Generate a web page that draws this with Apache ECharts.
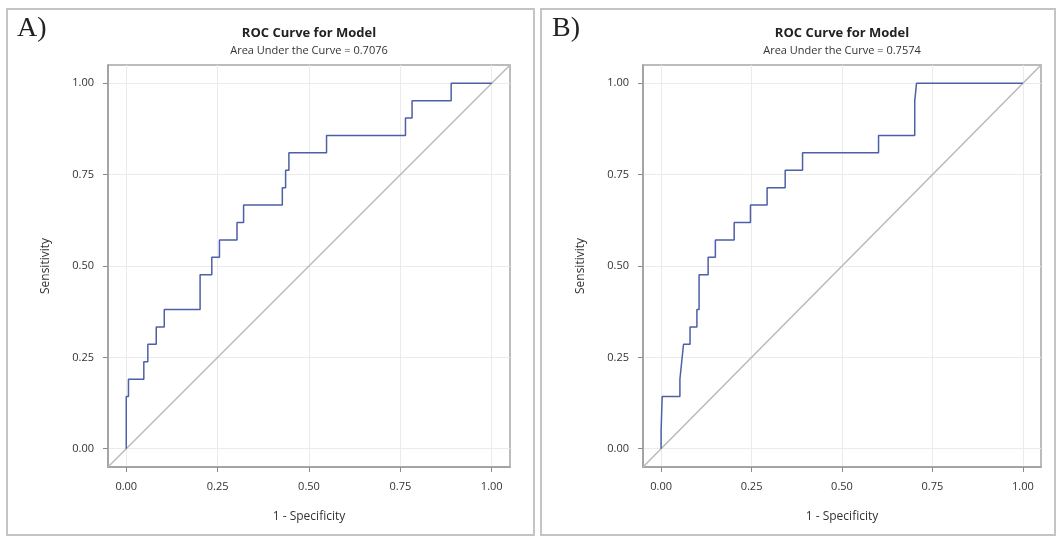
<!DOCTYPE html>
<html lang="en">
<head>
  <meta charset="UTF-8">
  <title>ROC Curves</title>
  <script src="https://cdn.jsdelivr.net/npm/echarts@6/dist/echarts.min.js"></script>
  <style>
    html, body { margin: 0; padding: 0; background: #fff; }
  </style>
</head>
<body>
  <div id="main" style="width: 1058px;height:536px;"></div>
  <script type="text/javascript">
    // tick positions and labels shared by both panels
    var tickValues = [0, 0.25, 0.5, 0.75, 1];
    var tickLabels = ['0.00', '0.25', '0.50', '0.75', '1.00'];

    var panelLabels = ['A)', 'B)'];
    var aucValues = ['0.7076', '0.7574'];

    // panel A staircase (1 - specificity, sensitivity)
    var fprA = [0, 0, 0.006, 0.006, 0.048, 0.048, 0.059, 0.059, 0.082, 0.082, 0.104, 0.104,
                0.202, 0.202, 0.234, 0.234, 0.255, 0.255, 0.303, 0.303, 0.321, 0.321,
                0.427, 0.427, 0.436, 0.436, 0.445, 0.445, 0.548, 0.548, 0.764, 0.764,
                0.782, 0.782, 0.889, 0.889, 1.0];
    var tprA = [0, 0.143, 0.143, 0.190, 0.190, 0.238, 0.238, 0.286, 0.286, 0.333, 0.333, 0.381,
                0.381, 0.476, 0.476, 0.524, 0.524, 0.571, 0.571, 0.619, 0.619, 0.667,
                0.667, 0.714, 0.714, 0.762, 0.762, 0.810, 0.810, 0.857, 0.857, 0.905,
                0.905, 0.952, 0.952, 1.0, 1.0];

    // panel B staircase
    var fprB = [0, 0, 0.003, 0.003, 0.052, 0.052, 0.057, 0.057, 0.062, 0.062, 0.080, 0.080,
                0.099, 0.099, 0.105, 0.105, 0.130, 0.130, 0.150, 0.150, 0.202, 0.202,
                0.247, 0.247, 0.293, 0.293, 0.343, 0.343, 0.391, 0.391, 0.601, 0.601,
                0.701, 0.701, 0.706, 0.706, 1.0];
    var tprB = [0, 0.048, 0.048, 0.143, 0.143, 0.190, 0.190, 0.238, 0.238, 0.286, 0.286, 0.333,
                0.333, 0.381, 0.381, 0.476, 0.476, 0.524, 0.524, 0.571, 0.571, 0.619,
                0.619, 0.667, 0.667, 0.714, 0.714, 0.762, 0.762, 0.810, 0.810, 0.857,
                0.857, 0.952, 0.952, 1.0, 1.0];

    // chance line spans the whole plot frame
    var diagX = [-0.05, 1.05];
    var diagY = [-0.05, 1.05];

    function pairs(xs, ys) {
      return xs.map(function (x, i) { return [x, ys[i]]; });
    }

    var font = '"Open Sans", "Liberation Sans", sans-serif';
    var textColor = '#333';

    var grids = [
      { left: 108, top: 65, width: 402, height: 402 },
      { left: 643, top: 65, width: 398, height: 402 }
    ];
    var centers = [309, 842];

    function fmt(v) {
      var i = tickValues.indexOf(v);
      return i >= 0 ? tickLabels[i] : '';
    }

    function makeX(gi) {
      return {
        type: 'value', gridIndex: gi, min: -0.05, max: 1.05,
        name: '1 - Specificity', nameLocation: 'middle', nameGap: 44,
        nameTextStyle: { fontSize: 12, color: textColor, fontFamily: font },
        axisLine: { show: true, onZero: false, lineStyle: { color: '#9c9c9c', width: 1.5 } },
        axisTick: { show: true, length: 5, customValues: tickValues, lineStyle: { color: '#8a8a8a' } },
        axisLabel: { customValues: tickValues, formatter: fmt, margin: 14, fontSize: 11, color: textColor, fontFamily: font },
        splitLine: { show: true, lineStyle: { color: '#ebebeb', width: 1 } }
      };
    }

    function makeY(gi) {
      return {
        type: 'value', gridIndex: gi, min: -0.05, max: 1.05,
        name: 'Sensitivity', nameLocation: 'middle', nameGap: 56,
        nameTextStyle: { fontSize: 12, color: textColor, fontFamily: font },
        axisLine: { show: true, onZero: false, lineStyle: { color: '#9c9c9c', width: 1.5 } },
        axisTick: { show: true, length: 5, customValues: tickValues, lineStyle: { color: '#8a8a8a' } },
        axisLabel: { customValues: tickValues, formatter: fmt, margin: 14, fontSize: 11, color: textColor, fontFamily: font },
        splitLine: { show: true, lineStyle: { color: '#ebebeb', width: 1 } }
      };
    }

    var graphic = [
      { type: 'rect', shape: { x: 7, y: 9, width: 527, height: 526 }, style: { fill: 'none', stroke: '#c4c4c4', lineWidth: 2 }, silent: true },
      { type: 'rect', shape: { x: 541, y: 9, width: 514, height: 526 }, style: { fill: 'none', stroke: '#c4c4c4', lineWidth: 2 }, silent: true }
    ];
    var labelX = [17, 552];
    for (var p = 0; p < 2; p++) {
      graphic.push({
        type: 'text', left: labelX[p], top: 15,
        style: { text: panelLabels[p], font: '28px "Liberation Serif", serif', fill: '#222' }
      });
      graphic.push({
        type: 'text', x: centers[p], y: 33,
        style: { text: 'ROC Curve for Model', font: 'bold 13px ' + font, fill: '#222', align: 'center', verticalAlign: 'middle' }
      });
      graphic.push({
        type: 'text', x: centers[p], y: 51,
        style: { text: 'Area Under the Curve = ' + aucValues[p], font: '11px ' + font, fill: textColor, align: 'center', verticalAlign: 'middle' }
      });
    }

    var myChart = echarts.init(document.getElementById('main'));

    var option = {
      animation: false,
      backgroundColor: '#fff',
      grid: grids.map(function (g) {
        return { left: g.left, top: g.top, width: g.width, height: g.height, show: true, borderColor: '#a6a6a6', borderWidth: 1.5, backgroundColor: 'transparent' };
      }),
      xAxis: [makeX(0), makeX(1)],
      yAxis: [makeY(0), makeY(1)],
      graphic: graphic,
      series: [
        { type: 'line', xAxisIndex: 0, yAxisIndex: 0, data: pairs(diagX, diagY), symbol: 'none', lineStyle: { color: '#b9b9b9', width: 1.5 }, silent: true },
        { type: 'line', xAxisIndex: 0, yAxisIndex: 0, data: pairs(fprA, tprA), symbol: 'none', lineStyle: { color: '#4d5fa6', width: 1.5 } },
        { type: 'line', xAxisIndex: 1, yAxisIndex: 1, data: pairs(diagX, diagY), symbol: 'none', lineStyle: { color: '#b9b9b9', width: 1.5 }, silent: true },
        { type: 'line', xAxisIndex: 1, yAxisIndex: 1, data: pairs(fprB, tprB), symbol: 'none', lineStyle: { color: '#4d5fa6', width: 1.5 } }
      ]
    };

    myChart.setOption(option);
  </script>
</body>
</html>
